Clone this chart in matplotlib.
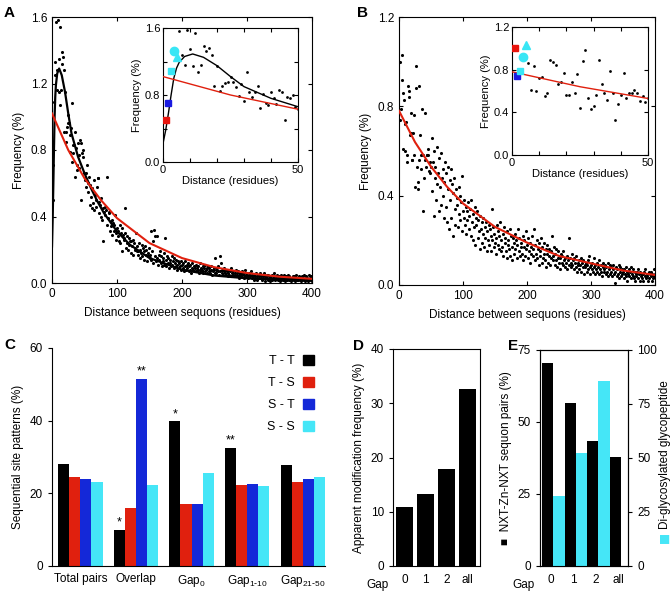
import numpy as np
import matplotlib
matplotlib.use('Agg')
import matplotlib.pyplot as plt
from matplotlib.patches import Patch

plt.rcParams['font.family'] = ['Liberation Sans', 'DejaVu Sans']
plt.rcParams['font.size'] = 8.5

# ---- data ----
# panel A: frequency (x0.01 %) for distances 1..400
a_freq = [
    50, 71, 109, 133, 125, 157, 128, 116, 158, 135,
    115, 154, 107, 116, 139, 132, 136, 128, 91, 115,
    85, 91, 94, 96, 101, 96, 89, 79, 93, 73,
    108, 83, 78, 83, 91, 64, 81, 71, 68, 84,
    77, 69, 86, 84, 50, 78, 76, 80, 66, 63,
    62, 66, 58, 71, 60, 55, 64, 47, 59, 52,
    45, 57, 48, 62, 44, 53, 50, 46, 58, 63,
    63, 49, 42, 47, 40, 51, 38, 45, 25, 43,
    41, 46, 44, 35, 64, 39, 43, 42, 31, 37,
    34, 38, 29, 36, 35, 31, 41, 30, 26, 33,
    28, 31, 25, 35, 24, 30, 19, 33, 29, 27,
    26, 45, 30, 21, 28, 24, 20, 27, 23, 25,
    25, 18, 22, 26, 17, 24, 21, 20, 30, 19,
    22, 17, 19, 24, 15, 20, 18, 23, 16, 21,
    19, 14, 22, 17, 20, 13, 18, 16, 21, 15,
    17, 31, 14, 19, 25, 12, 32, 16, 28, 13,
    28, 15, 11, 17, 14, 19, 12, 16, 10, 15,
    13, 18, 11, 27, 14, 10, 16, 12, 15, 9,
    12, 14, 10, 16, 11, 13, 9, 15, 12, 10,
    14, 8, 11, 13, 9, 12, 10, 8, 13, 11,
    9, 12, 7, 10, 13, 8, 11, 9, 12, 7,
    10, 8, 11, 6, 9, 12, 8, 10, 7, 9,
    11, 7, 9, 8, 10, 6, 12, 8, 9, 7,
    8, 10, 6, 9, 7, 11, 8, 6, 9, 10,
    7, 9, 6, 8, 10, 5, 8, 7, 9, 6,
    15, 8, 6, 9, 7, 10, 5, 16, 7, 12,
    6, 8, 5, 7, 9, 6, 8, 5, 7, 4,
    6, 8, 5, 7, 4, 9, 6, 5, 7, 4,
    6, 5, 8, 4, 6, 7, 5, 3, 6, 5,
    4, 7, 5, 6, 3, 5, 8, 4, 6, 5,
    4, 3, 6, 5, 4, 7, 3, 5, 4, 2,
    5, 4, 3, 6, 2, 4, 5, 3, 4, 6,
    3, 5, 2, 4, 3, 6, 4, 1, 3, 5,
    4, 2, 5, 3, 4, 1, 3, 5, 2, 4,
    3, 6, 2, 4, 3, 5, 2, 3, 4, 1,
    3, 5, 2, 4, 3, 2, 5, 3, 1, 4,
    2, 3, 5, 2, 4, 3, 1, 3, 2, 4,
    3, 2, 4, 1, 3, 5, 2, 3, 2, 4,
    2, 3, 1, 4, 2, 3, 5, 2, 1, 3,
    4, 2, 3, 1, 5, 2, 3, 2, 4, 1,
]
# panel B: frequency (x0.01 %) for distances 1..400
b_freq = [
    100, 74, 79, 92, 103, 86, 61, 83, 60, 72,
    73, 55, 58, 89, 87, 84, 67, 68, 77, 56,
    56, 68, 58, 76, 44, 88, 98, 53, 43, 46,
    56, 89, 67, 58, 52, 79, 58, 33, 48, 56,
    77, 53, 58, 58, 61, 58, 51, 55, 50, 53,
    66, 42, 55, 31, 60, 48, 53, 38, 62, 45,
    50, 33, 57, 44, 59, 36, 48, 52, 40, 30,
    46, 55, 35, 50, 28, 43, 53, 25, 47, 38,
    52, 30, 45, 22, 41, 48, 34, 27, 43, 39,
    36, 26, 44, 32, 40, 29, 37, 24, 49, 33,
    30, 38, 27, 35, 23, 33, 29, 37, 25, 31,
    34, 22, 38, 28, 20, 32, 26, 35, 18, 30,
    27, 33, 21, 29, 24, 16, 31, 25, 28, 19,
    23, 30, 17, 26, 21, 28, 15, 24, 20, 27,
    18, 25, 22, 15, 34, 20, 26, 17, 23, 19,
    21, 14, 27, 18, 24, 16, 22, 28, 15, 20,
    17, 23, 13, 26, 19, 21, 15, 24, 12, 18,
    20, 16, 25, 13, 22, 17, 11, 21, 19, 14,
    23, 16, 20, 12, 18, 25, 15, 21, 13, 17,
    19, 14, 22, 11, 17, 20, 13, 24, 16, 18,
    12, 21, 15, 19, 10, 17, 14, 22, 13, 16,
    25, 11, 18, 14, 20, 12, 16, 9, 19, 13,
    15, 21, 10, 17, 12, 14, 19, 11, 16, 8,
    14, 18, 10, 13, 16, 9, 15, 12, 22, 11,
    13, 17, 9, 14, 11, 16, 8, 12, 15, 10,
    12, 7, 14, 10, 13, 9, 15, 11, 8, 12,
    10, 13, 7, 11, 21, 9, 12, 8, 10, 14,
    9, 11, 7, 12, 10, 8, 13, 6, 10, 9,
    11, 7, 9, 12, 6, 10, 8, 11, 5, 9,
    8, 10, 6, 9, 11, 7, 13, 8, 5, 9,
    7, 10, 6, 8, 12, 5, 9, 7, 10, 6,
    8, 5, 11, 7, 9, 6, 4, 8, 10, 6,
    7, 9, 5, 8, 6, 10, 4, 7, 9, 5,
    6, 8, 4, 7, 9, 5, 1, 6, 8, 4,
    7, 5, 9, 3, 6, 8, 4, 7, 5, 6,
    3, 7, 5, 8, 4, 6, 2, 5, 7, 4,
    6, 3, 8, 5, 4, 7, 3, 6, 2, 5,
    4, 6, 3, 7, 5, 2, 6, 4, 5, 3,
    5, 2, 6, 4, 7, 3, 5, 4, 2, 6,
    3, 5, 4, 6, 2, 5, 3, 7, 4, 5,
]

# fitted curves
a_fit_x = [0, 1, 2, 3, 4, 5, 6, 8, 11, 15, 20, 25, 30, 40, 50, 60, 70, 80,
           100, 120, 150, 200, 250, 300, 350, 400]
a_fit_black = [0.22, 0.38, 0.58, 0.80, 1.00, 1.12, 1.19, 1.26, 1.29, 1.25,
               1.15, 1.02, 0.90, 0.76, 0.66, 0.57, 0.49, 0.42, 0.31, 0.23,
               0.15, 0.08, 0.045, 0.028, 0.02, 0.015]
red_fit_x = [0, 25, 50, 75, 100, 150, 200, 250, 300, 350, 400]
a_fit_red = [1.02, 0.80, 0.63, 0.50, 0.39, 0.24, 0.15, 0.095, 0.06, 0.038, 0.025]
b_fit_red = [0.78, 0.64, 0.53, 0.44, 0.365, 0.26, 0.19, 0.13, 0.097, 0.065, 0.045]

# special first-distance points shown in insets
inset_pts_x = [1, 2, 3, 4, 5]
inset_colors = ['#e8140c', '#1a1ae0', '#38e6f5', '#38e6f5', '#38e6f5']
inset_marks = ['s', 's', 's', 'o', '^']
inset_sizes = [4, 4, 4.5, 6, 5.5]

# panel C
c_groups = ['Total pairs', 'Overlap', r'Gap$_{\mathregular{0}}$',
            r'Gap$_{\mathregular{1\text{-}10}}$', r'Gap$_{\mathregular{21\text{-}50}}$']
c_series = ['T - T', 'T - S', 'S - T', 'S - S']
c_tt = [28.1, 10.0, 39.8, 32.5, 27.7]
c_ts = [24.5, 16.0, 17.0, 22.3, 23.0]
c_st = [23.9, 51.5, 17.0, 22.6, 23.9]
c_ss = [23.0, 22.3, 25.7, 21.9, 24.6]
c_stars = [(0, 1, '*'), (2, 1, '**'), (0, 2, '*'), (0, 3, '**')]

# panel D
d_gaps = ['0', '1', '2', 'all']
d_freq = [10.8, 13.3, 17.9, 32.7]

# panel E
e_gaps = ['0', '1', '2', 'all']
e_pairs = [70.5, 56.5, 43.5, 38.0]
e_digly = [32.5, 52.5, 85.5]

colors = ['#000000', '#e0200e', '#1428d8', '#45e6f7']

W, H = 672, 592


def box(l, t, r, b):
    return [l / W, 1 - b / H, (r - l) / W, (b - t) / H]


fig = plt.figure(figsize=(6.72, 5.92), dpi=100)

dist = np.arange(1, 401)


def main_panel(rect, freq, ylim, yticks, black_fit):
    ax = fig.add_axes(rect)
    ax.scatter(dist, np.array(freq) / 100, s=5, c='k', lw=0, zorder=3)
    if black_fit is not None:
        ax.plot(a_fit_x, black_fit, color='k', lw=1.6, zorder=4)
    ax.set_xlim(0, 400)
    ax.set_ylim(0, ylim)
    ax.set_xticks([0, 100, 200, 300, 400])
    ax.set_yticks(yticks)
    ax.set_yticklabels(['%.1f' % v for v in yticks])
    ax.tick_params(direction='in', top=True, right=True, length=3)
    ax.set_ylabel('Frequency (%)', labelpad=4)
    ax.set_xlabel('Distance between sequons (residues)', labelpad=5)
    return ax


def inset_panel(rect, freq, ylim, yticks, ylabels, black_fit):
    ax = fig.add_axes(rect)
    ax.scatter(dist[5:50], np.array(freq[5:50]) / 100, s=4, c='k', lw=0, zorder=3)
    if black_fit is not None:
        ax.plot(a_fit_x, black_fit, color='k', lw=1.0, zorder=4)
    for i in range(5):
        ax.plot(inset_pts_x[i], freq[i] / 100, marker=inset_marks[i],
                color=inset_colors[i], ms=inset_sizes[i], ls='none', zorder=5)
    ax.set_xlim(0, 50)
    ax.set_ylim(0, ylim)
    ax.set_xticks([0, 10, 20, 30, 40, 50])
    ax.set_xticklabels(['0', '', '', '', '', '50'])
    ax.set_yticks(yticks)
    ax.set_yticklabels(ylabels)
    ax.tick_params(direction='in', top=True, right=True, length=3, labelsize=8, pad=2)
    ax.set_xlabel('Distance (residues)', fontsize=8, labelpad=1)
    ax.set_ylabel('Frequency (%)', fontsize=8, labelpad=2)
    return ax


# A
axA = main_panel(box(52, 17, 312, 283), a_freq, 1.6, [0, 0.4, 0.8, 1.2, 1.6], a_fit_black)
axA.plot(red_fit_x, a_fit_red, color='#e0200e', lw=1.5, zorder=4)
insA = inset_panel(box(163, 28, 298, 162), a_freq, 1.6, [0, 0.4, 0.8, 1.2, 1.6],
                   ['0.0', '', '0.8', '', '1.6'], a_fit_black)
insA.plot(red_fit_x, a_fit_red, color='#e0200e', lw=1.0, zorder=4)

# B
axB = main_panel(box(399, 17, 655, 285), b_freq, 1.2, [0, 0.4, 0.8, 1.2], None)
axB.plot(red_fit_x, b_fit_red, color='#e0200e', lw=1.5, zorder=4)
insB = inset_panel(box(512, 27, 648, 155), b_freq, 1.2, [0, 0.4, 0.8, 1.2],
                   ['0.0', '0.4', '0.8', '1.2'], None)
insB.plot(red_fit_x, b_fit_red, color='#e0200e', lw=1.0, zorder=4)

# C
axC = fig.add_axes(box(52, 348, 325, 566))
xg = np.arange(len(c_groups))
bw = 0.2
series_vals = [c_tt, c_ts, c_st, c_ss]
for k, vals in enumerate(series_vals):
    axC.bar(xg - 0.3 + k * bw, vals, width=bw, color=colors[k], label=c_series[k])
for k, g, s in c_stars:
    axC.text(g - 0.3 + k * bw, series_vals[k][g] + 0.4, s, ha='center', va='bottom', fontsize=9)
axC.set_xlim(-0.51, 4.4)
axC.set_ylim(0, 60)
axC.set_yticks([0, 20, 40, 60])
axC.set_xticks(xg)
axC.set_xticklabels(c_groups)
axC.tick_params(axis='x', length=0, pad=5)
axC.tick_params(axis='y', length=3)
axC.spines['top'].set_visible(False)
axC.spines['right'].set_visible(False)
axC.set_ylabel('Sequential site patterns (%)', labelpad=4)
handles = [Patch(color=c) for c in colors]
axC.legend(handles, c_series, loc='upper right', frameon=False, markerfirst=False,
           handlelength=0.9, handleheight=0.9, labelspacing=0.75, fontsize=9,
           bbox_to_anchor=(1.0, 1.02), handletextpad=0.6)

# D
axD = fig.add_axes(box(393, 349, 480, 566))
xd = np.arange(len(d_gaps))
axD.bar(xd, d_freq, width=0.8, color='k')
axD.set_xlim(-0.55, 3.6)
axD.set_ylim(0, 40)
axD.set_yticks([0, 10, 20, 30, 40])
axD.set_xticks(xd)
axD.set_xticklabels(d_gaps)
axD.tick_params(axis='x', length=0, pad=6)
axD.tick_params(axis='y', length=3)
axD.text(-0.05, -0.06, 'Gap', transform=axD.transAxes, ha='right', va='top')
axD.set_ylabel('Apparent modification frequency (%)', labelpad=4)

# E
axE = fig.add_axes(box(540, 350, 628, 566))
xe = np.arange(len(e_gaps))
axE.bar(xe - 0.25, e_pairs, width=0.5, color='k')
axE.set_xlim(-0.6, 3.32)
axE.set_ylim(0, 75)
axE.set_yticks([0, 25, 50, 75])
axE.set_xticks(xe - 0.1)
axE.set_xticklabels(e_gaps)
axE.tick_params(axis='x', length=0, pad=6)
axE.tick_params(axis='y', length=3)
axE.text(-0.06, -0.06, 'Gap', transform=axE.transAxes, ha='right', va='top')
axE.set_ylabel('\u25a0  NXT-Zn-NXT sequon pairs (%)', labelpad=4)
axE2 = axE.twinx()
axE2.bar(xe[:3] + 0.25, e_digly, width=0.5, color='#45e6f7')
axE2.set_ylim(0, 100)
axE2.set_yticks([0, 25, 50, 75, 100])
axE2.tick_params(axis='y', length=3)
fig.text(659 / W, 1 - 455 / H, 'Di-glycosylated glycopeptide', rotation=90,
         ha='left', va='center')
fig.text(658 / W, 1 - 537 / H, '\u25a0', rotation=90, ha='left', va='center',
         color='#45e6f7', family=['DejaVu Sans'])

# panel letters
for lbl, px, py in [('A', 9, 13), ('B', 363, 13), ('C', 10, 345), ('D', 359, 346), ('E', 513, 346)]:
    fig.text(px / W, 1 - py / H, lbl, fontsize=11, fontweight='bold', ha='center', va='center')

fig.savefig('out.png', dpi=100)
